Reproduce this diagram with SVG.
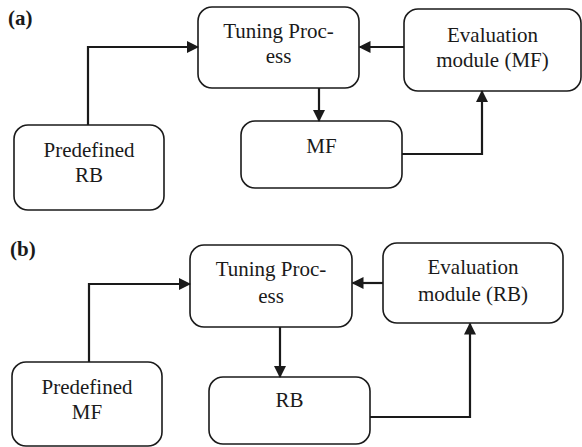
<svg xmlns="http://www.w3.org/2000/svg" width="582" height="447" viewBox="0 0 582 447">
  <defs>
    <marker id="head" markerUnits="userSpaceOnUse" viewBox="0 0 12 12" markerWidth="12" markerHeight="12" refX="11" refY="6" orient="auto">
      <path d="M0,0 L12,6 L0,12 z" fill="#1a1a1a"/>
    </marker>
  </defs>
  <rect width="582" height="447" fill="#ffffff"/>

  <!-- panel (a): tuning of the membership functions -->
  <text x="8" y="25" font-family="Liberation Serif" font-size="21" font-weight="bold" fill="#1a1a1a">(a)</text>

  <g id="a-tuning">
    <rect x="198" y="7" width="161" height="81" rx="14" fill="#ffffff" stroke="#1a1a1a" stroke-width="1.6"/>
    <text x="278.5" y="38" font-family="Liberation Serif" font-size="21" text-anchor="middle" fill="#1a1a1a">Tuning Proc-</text>
    <text x="278.5" y="63" font-family="Liberation Serif" font-size="21" text-anchor="middle" fill="#1a1a1a">ess</text>
  </g>
  <g id="a-evaluation">
    <rect x="404" y="9" width="177" height="82" rx="14" fill="#ffffff" stroke="#1a1a1a" stroke-width="1.6"/>
    <text x="492.5" y="41.5" font-family="Liberation Serif" font-size="21" text-anchor="middle" fill="#1a1a1a">Evaluation</text>
    <text x="492.5" y="66.5" font-family="Liberation Serif" font-size="21" text-anchor="middle" fill="#1a1a1a">module (MF)</text>
  </g>
  <g id="a-predefined">
    <rect x="14" y="125" width="150" height="85" rx="14" fill="#ffffff" stroke="#1a1a1a" stroke-width="1.6"/>
    <text x="89" y="157" font-family="Liberation Serif" font-size="21" text-anchor="middle" fill="#1a1a1a">Predefined</text>
    <text x="89" y="182" font-family="Liberation Serif" font-size="21" text-anchor="middle" fill="#1a1a1a">RB</text>
  </g>
  <g id="a-output">
    <rect x="241" y="121" width="161" height="67" rx="14" fill="#ffffff" stroke="#1a1a1a" stroke-width="1.6"/>
    <text x="321.5" y="152.5" font-family="Liberation Serif" font-size="21" text-anchor="middle" fill="#1a1a1a">MF</text>
  </g>

  <!-- panel (b): tuning of the rule base -->
  <text x="10" y="256" font-family="Liberation Serif" font-size="21" font-weight="bold" fill="#1a1a1a">(b)</text>

  <g id="b-tuning">
    <rect x="190" y="245" width="162" height="82" rx="14" fill="#ffffff" stroke="#1a1a1a" stroke-width="1.6"/>
    <text x="271" y="276" font-family="Liberation Serif" font-size="21" text-anchor="middle" fill="#1a1a1a">Tuning Proc-</text>
    <text x="271" y="302.5" font-family="Liberation Serif" font-size="21" text-anchor="middle" fill="#1a1a1a">ess</text>
  </g>
  <g id="b-evaluation">
    <rect x="383" y="243" width="180" height="80" rx="14" fill="#ffffff" stroke="#1a1a1a" stroke-width="1.6"/>
    <text x="473" y="274" font-family="Liberation Serif" font-size="21" text-anchor="middle" fill="#1a1a1a">Evaluation</text>
    <text x="473" y="301" font-family="Liberation Serif" font-size="21" text-anchor="middle" fill="#1a1a1a">module (RB)</text>
  </g>
  <g id="b-predefined">
    <rect x="12" y="362" width="150" height="84" rx="14" fill="#ffffff" stroke="#1a1a1a" stroke-width="1.6"/>
    <text x="87" y="394" font-family="Liberation Serif" font-size="21" text-anchor="middle" fill="#1a1a1a">Predefined</text>
    <text x="87" y="418.5" font-family="Liberation Serif" font-size="21" text-anchor="middle" fill="#1a1a1a">MF</text>
  </g>
  <g id="b-output">
    <rect x="209" y="377" width="161" height="67" rx="14" fill="#ffffff" stroke="#1a1a1a" stroke-width="1.6"/>
    <text x="289.5" y="407" font-family="Liberation Serif" font-size="21" text-anchor="middle" fill="#1a1a1a">RB</text>
  </g>

  <g id="connectors" fill="none" stroke="#1a1a1a" stroke-width="2.2" marker-end="url(#head)">
    <path d="M88,125 V47 H198"/>
    <path d="M319,88 V121"/>
    <path d="M404,47 H359.5"/>
    <path d="M402,154 H482 V91"/>

    <path d="M89,362 V284 H190"/>
    <path d="M280,327 V377"/>
    <path d="M383,283 H352.5"/>
    <path d="M370,417 H470 V323.5"/>
  </g>
</svg>
